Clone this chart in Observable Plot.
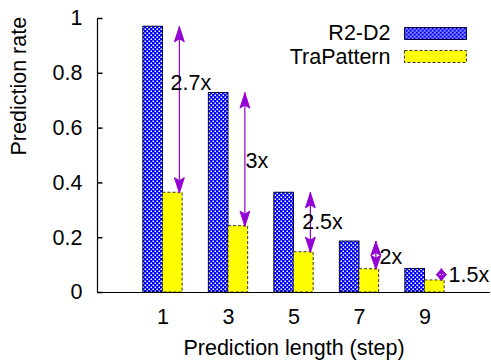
<!DOCTYPE html>
<html>
<head>
<meta charset="utf-8">
<script src="https://cdn.jsdelivr.net/npm/d3@7"></script>
<script src="https://cdn.jsdelivr.net/npm/@observablehq/plot@0.6"></script>
<style>
  html, body { margin: 0; padding: 0; background: #fff; }
</style>
</head>
<body>
<div id="chart"></div>
<script>
const steps = [1, 3, 5, 7, 9];
const r2d2 = [0.97, 0.728, 0.364, 0.186, 0.086];
const traPattern = [0.364, 0.242, 0.147, 0.085, 0.044];
const seriesNames = ["R2-D2", "TraPattern"];
const ratioLabels = ["2.7x", "3x", "2.5x", "2x", "1.5x"];
const labelStep = [1.23, 3.52, 5.25, 7.61, 9.72];
const labelRate = [0.763, 0.48, 0.257, 0.128, 0.062];
const yTicks = [0, 0.2, 0.4, 0.6, 0.8, 1];
const xTicks = [1, 3, 5, 7, 9];
const xDomain = [-1, 11];
const yDomain = [0, 1];
const xTitle = "Prediction length (step)";
const yTitle = "Prediction rate";

const purple = "#9400d3";
const barW = 0.6;

const rows = steps.map((s, i) => ({step: s, r2: r2d2[i], tp: traPattern[i], label: ratioLabels[i], lx: labelStep[i], ly: labelRate[i]}));

// arrow heads (polygons in data space)
const hlMax = 0.055, hw = 0.15;
const heads = [];
rows.forEach((d, i) => {
  const x = d.step + 0.5, hi = d.r2, lo = d.tp;
  const hl = Math.min(hlMax, (hi - lo) / 2);
  const up = [[x, hi], [x - hw, hi - hl], [x, hi - hl * 0.8], [x + hw, hi - hl], [x, hi]];
  const dn = [[x, lo], [x - hw, lo + hl], [x, lo + hl * 0.8], [x + hw, lo + hl], [x, lo]];
  up.forEach(p => heads.push({id: "u" + i, x: p[0], y: p[1]}));
  dn.forEach(p => heads.push({id: "d" + i, x: p[0], y: p[1]}));
});

const tickSym = {draw(ctx) { ctx.moveTo(0, 0); ctx.lineTo(5, 0); }};
const swatchSym = {draw(ctx) { ctx.moveTo(-31, -6); ctx.lineTo(31, -6); ctx.lineTo(31, 6); ctx.lineTo(-31, 6); ctx.closePath(); }};

const fontSize = 21.5;

const plot = Plot.plot({
  width: 491,
  height: 362,
  marginLeft: 97,
  marginRight: 1,
  marginTop: 18,
  marginBottom: 70,
  style: {fontFamily: "'Liberation Sans', Arial, sans-serif", fontSize: fontSize + "px", background: "#fff", color: "#000"},
  x: {type: "linear", domain: xDomain, ticks: xTicks, tickFormat: d => String(d), tickSize: 0, tickPadding: 16, label: null},
  y: {type: "linear", domain: yDomain, ticks: yTicks, tickFormat: d => String(d), tickSize: 0, tickPadding: 15, label: null},
  marks: [
    Plot.rect(rows, {x1: d => d.step - barW, x2: d => d.step, y1: () => 0, y2: "r2", fill: "url(#r2pat)", stroke: "#000040", strokeWidth: 1}),
    Plot.rect(rows, {x1: d => d.step, x2: d => d.step + barW, y1: () => 0, y2: "tp", fill: "#ffff00", stroke: "#333", strokeWidth: 1, strokeDasharray: "3,2"}),
    Plot.ruleX(rows, {x: d => d.step + 0.5, y1: "tp", y2: "r2", stroke: purple, strokeWidth: 1.2}),
    Plot.line(heads, {x: "x", y: "y", z: "id", fill: purple, stroke: purple, strokeWidth: 1}),
    Plot.text(rows, {x: "lx", y: "ly", text: "label", textAnchor: "start", lineAnchor: "middle", fontSize: fontSize, fill: "#000"}),
    Plot.ruleY([yDomain[0]], {stroke: "#000", strokeWidth: 1.2}),
    Plot.ruleX([xDomain[0]], {stroke: "#000", strokeWidth: 1.2}),
    Plot.dot(yTicks, {x: () => xDomain[0], y: d => d, symbol: tickSym, stroke: "#000", fill: "none", r: 1}),
    Plot.text([yTitle], {frameAnchor: "left", rotate: -90, dx: -78, lineAnchor: "middle", text: d => d, fontSize: fontSize, fill: "#000"}),
    Plot.text([xTitle], {frameAnchor: "bottom", dy: 56, lineAnchor: "middle", text: d => d, fontSize: fontSize, fill: "#000"}),
    Plot.text([seriesNames[0]], {frameAnchor: "top-right", dx: -100, dy: 15, textAnchor: "end", lineAnchor: "middle", text: d => d, fontSize: fontSize, fill: "#000"}),
    Plot.text([seriesNames[1]], {frameAnchor: "top-right", dx: -100, dy: 39, textAnchor: "end", lineAnchor: "middle", text: d => d, fontSize: fontSize, fill: "#000"}),
    Plot.dot([seriesNames[0]], {frameAnchor: "top-right", dx: -55, dy: 15, symbol: swatchSym, r: 1, fill: "url(#r2pat)", stroke: "#000040", strokeWidth: 1}),
    Plot.dot([seriesNames[1]], {frameAnchor: "top-right", dx: -55, dy: 38, symbol: swatchSym, r: 1, fill: "#ffff00", stroke: "#333", strokeWidth: 1, strokeDasharray: "3,2"})
  ]
});

d3.select(plot).insert("defs", ":first-child").html(
  '<pattern id="r2pat" patternUnits="userSpaceOnUse" width="4" height="4">' +
  '<rect width="4" height="4" fill="#0000ff"/>' +
  '<rect x="0.5" y="0.5" width="1.5" height="1.5" fill="#ffffff"/>' +
  '<rect x="2.5" y="2.5" width="1.5" height="1.5" fill="#ffffff"/>' +
  '</pattern>'
);

document.getElementById("chart").appendChild(plot);
</script>
</body>
</html>
